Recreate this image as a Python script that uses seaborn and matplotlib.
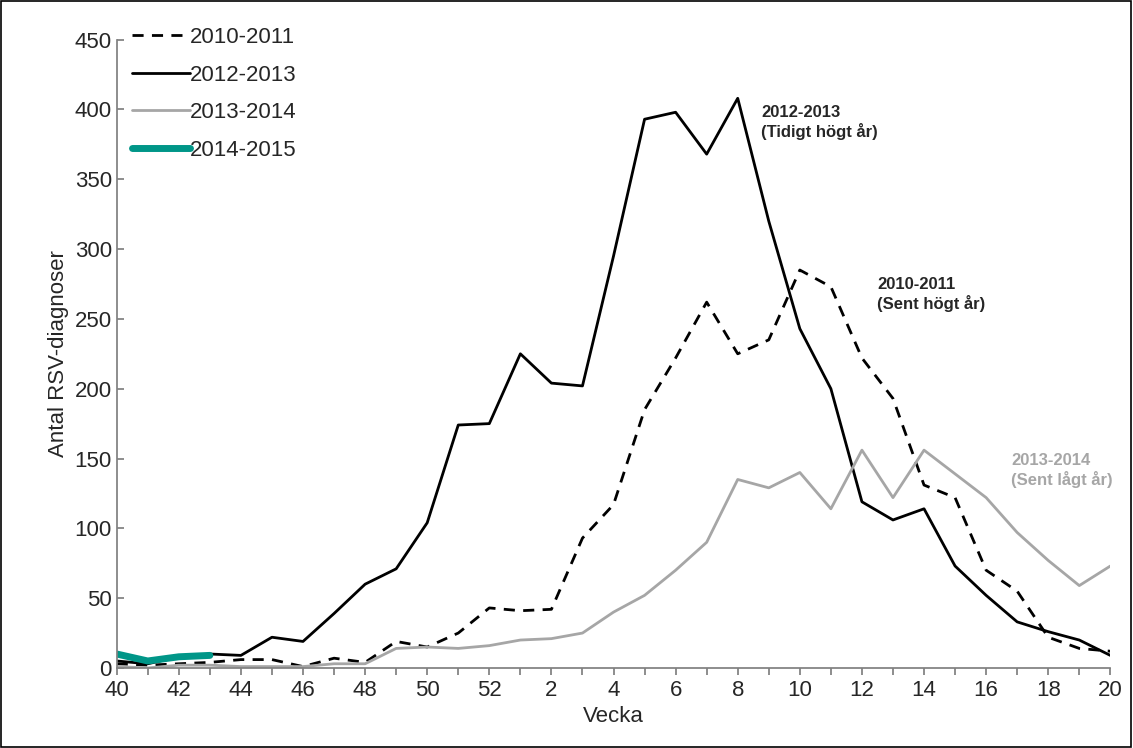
import pandas as pd
import seaborn as sns
import matplotlib.pyplot as plt

# week order across the season
weeks = list(range(40, 53)) + list(range(1, 21))

s1011 = [3, 2, 3, 4, 6, 6, 1, 7, 4, 19, 15, 25, 43, 41, 42, 93, 117, 185, 222, 262,
         225, 235, 285, 273, 222, 193, 131, 122, 70, 55, 22, 14, 12]
s1213 = [5, 3, 8, 10, 9, 22, 19, 39, 60, 71, 104, 174, 175, 225, 204, 202, 295, 393,
         398, 368, 408, 320, 243, 200, 119, 106, 114, 73, 52, 33, 26, 20, 9]
s1314 = [1, 0, 2, 2, 1, 1, 1, 3, 3, 14, 15, 14, 16, 20, 21, 25, 40, 52, 70, 90, 135,
         129, 140, 114, 156, 122, 156, 139, 122, 97, 77, 59, 73]
s1415 = [10, 5, 8, 9]

sns.set_theme(style="ticks")
plt.rcParams['font.family'] = ['Liberation Sans', 'DejaVu Sans']

idx = list(range(len(weeks)))
fig, ax = plt.subplots(figsize=(11.33, 7.48), dpi=100)
fig.subplots_adjust(left=0.103, right=0.98, top=0.947, bottom=0.107)

sns.lineplot(x=idx, y=s1011, ax=ax, color="black", lw=2, linestyle=(0, (4, 3)), label="2010-2011")
sns.lineplot(x=idx, y=s1213, ax=ax, color="black", lw=2, label="2012-2013")
sns.lineplot(x=idx, y=s1314, ax=ax, color="#a6a6a6", lw=2, label="2013-2014")
sns.lineplot(x=idx[:len(s1415)], y=s1415, ax=ax, color="#009688", lw=5,
             solid_capstyle="round", label="2014-2015")

ax.set_xlim(0, len(weeks) - 1)
ax.set_ylim(0, 450)
ax.set_yticks(range(0, 451, 50))
ax.set_xticks(idx)
ax.set_xticklabels([str(w) if w % 2 == 0 else "" for w in weeks])
ax.tick_params(labelsize=16, direction="in", length=5, color="#808080")
ax.tick_params(axis="x", direction="out")
for sp in ["top", "right"]:
    ax.spines[sp].set_visible(False)
for sp in ["left", "bottom"]:
    ax.spines[sp].set_color("#808080")
ax.set_xlabel("Vecka", fontsize=16)
ax.set_ylabel("Antal RSV-diagnoser", fontsize=16)

leg = ax.legend(loc="upper left", frameon=False, fontsize=16, handlelength=2.6,
                handletextpad=0, borderaxespad=0.3, labelspacing=0.75,
                bbox_to_anchor=(0, 1.045))

ax.text(20.75, 403, "2012-2013\n(Tidigt högt år)", fontsize=12, fontweight="bold", va="top")
ax.text(24.5, 280, "2010-2011\n(Sent högt år)", fontsize=12, fontweight="bold", va="top")
ax.text(28.8, 154, "2013-2014\n(Sent lågt år)", fontsize=12, fontweight="bold",
        va="top", color="#a6a6a6")

fig.patches.append(plt.Rectangle((0.001, 0.001), 0.997, 0.997, transform=fig.transFigure,
                                 fill=False, edgecolor="black", lw=1.2))
fig.savefig("out.png")
